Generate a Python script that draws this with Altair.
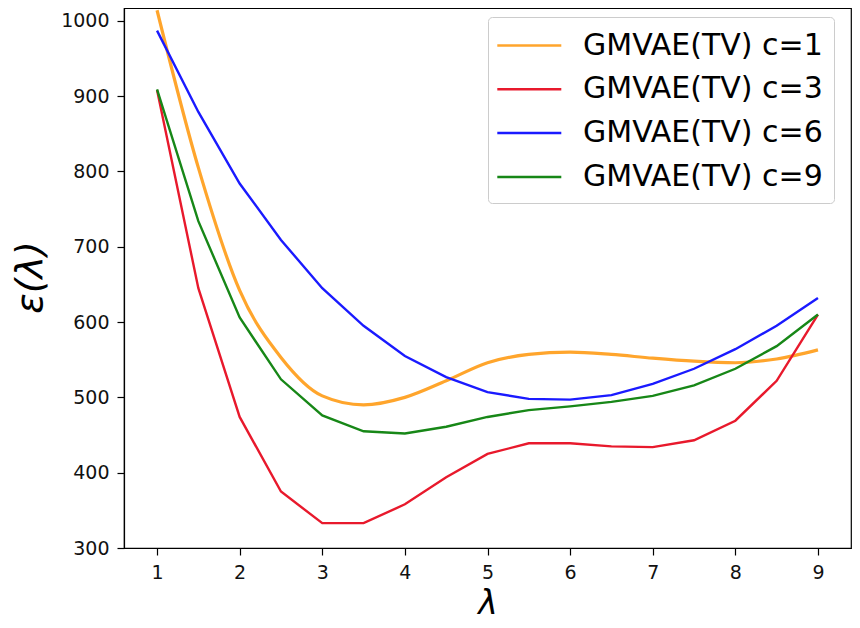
import altair as alt
import pandas as pd

lam = [1, 1.5, 2, 2.5, 3, 3.5, 4, 4.5, 5, 5.5, 6, 6.5, 7, 7.5, 8, 8.5, 9]
c1 = [1014, 805, 642, 553, 502, 490, 500, 522, 546, 557, 560, 557, 552, 548, 546, 551, 563]
c3 = [908, 645, 474, 375, 333, 333, 358, 394, 425, 439, 439, 435, 434, 443, 469, 522, 610]
c6 = [987, 879, 784, 709, 645, 595, 555, 527, 507, 498, 497, 503, 518, 538, 564, 595, 632]
c9 = [909, 734, 606, 524, 476, 455, 452, 461, 474, 483, 488, 494, 502, 516, 538, 568, 610]

names = ["GMVAE(TV) c=1", "GMVAE(TV) c=3", "GMVAE(TV) c=6", "GMVAE(TV) c=9"]
colors = ["#FFA52C", "#E8192C", "#1A1AFF", "#178717"]
x_ticks = [1, 2, 3, 4, 5, 6, 7, 8, 9]
y_ticks = [300, 400, 500, 600, 700, 800, 900, 1000]

rows = []
for name, vals in zip(names, [c1, c3, c6, c9]):
    for xv, yv in zip(lam, vals):
        rows.append({"lam": xv, "val": yv, "series": name})
df = pd.DataFrame(rows)

FONT = "DejaVu Sans"
W, H = 727, 540

xenc = alt.X("lam:Q", scale=alt.Scale(domain=[0.6, 9.4], nice=False, zero=False),
             axis=alt.Axis(values=x_ticks, title="λ", format="d", titleFontSize=33,
                           titleFontStyle="italic", titleFontWeight="normal",
                           titleBaseline="alphabetic", titleY=65, titleX=W / 2,
                           labelPadding=8))
yenc = alt.Y("val:Q", scale=alt.Scale(domain=[300, 1017], nice=False, zero=False),
             axis=alt.Axis(values=y_ticks, title="ε(λ)", format="d", titleFontSize=38,
                           titleFontStyle="italic", titleFontWeight="normal",
                           titleAngle=270, titleBaseline="alphabetic", titleAlign="center",
                           titleX=-83, titleY=269, labelPadding=8))
color = alt.Color("series:N", scale=alt.Scale(domain=names, range=colors),
                  legend=alt.Legend(title=None, orient="none", legendX=364, legendY=9,
                                    symbolType="M-1.2,0L2.8,0", symbolSize=1024,
                                    symbolStrokeWidth=2.5, labelFontSize=30,
                                    labelFont=FONT, labelOffset=49, rowPadding=10.8,
                                    padding=11, strokeColor="#cccccc", fillColor="white",
                                    cornerRadius=4, labelColor="black", labelLimit=400))

base = alt.Chart(df)
lin = base.transform_filter(alt.datum.series != names[0]).mark_line(
    strokeWidth=2.4, clip=True).encode(x=xenc, y=yenc, color=color, detail="series:N")
smooth = base.transform_filter(alt.datum.series == names[0]).mark_line(
    strokeWidth=3.2, interpolate="monotone", clip=True).encode(x=xenc, y=yenc, color=color)

chart = alt.layer(smooth, lin).properties(
    width=W, height=H,
    autosize=alt.AutoSizeParams(type="none"),
    padding={"left": 116, "top": 0, "right": 1, "bottom": 72},
).configure_view(stroke="black", strokeWidth=1.2).configure_axis(
    grid=False, domainColor="black", domainWidth=1.2, tickColor="black", tickWidth=1.2,
    tickSize=7, labelFontSize=19, labelFont=FONT, titleFont=FONT, labelColor="#111111",
    titleColor="black",
)

chart.save("out.html", embed_options={"renderer": "svg", "actions": False})
